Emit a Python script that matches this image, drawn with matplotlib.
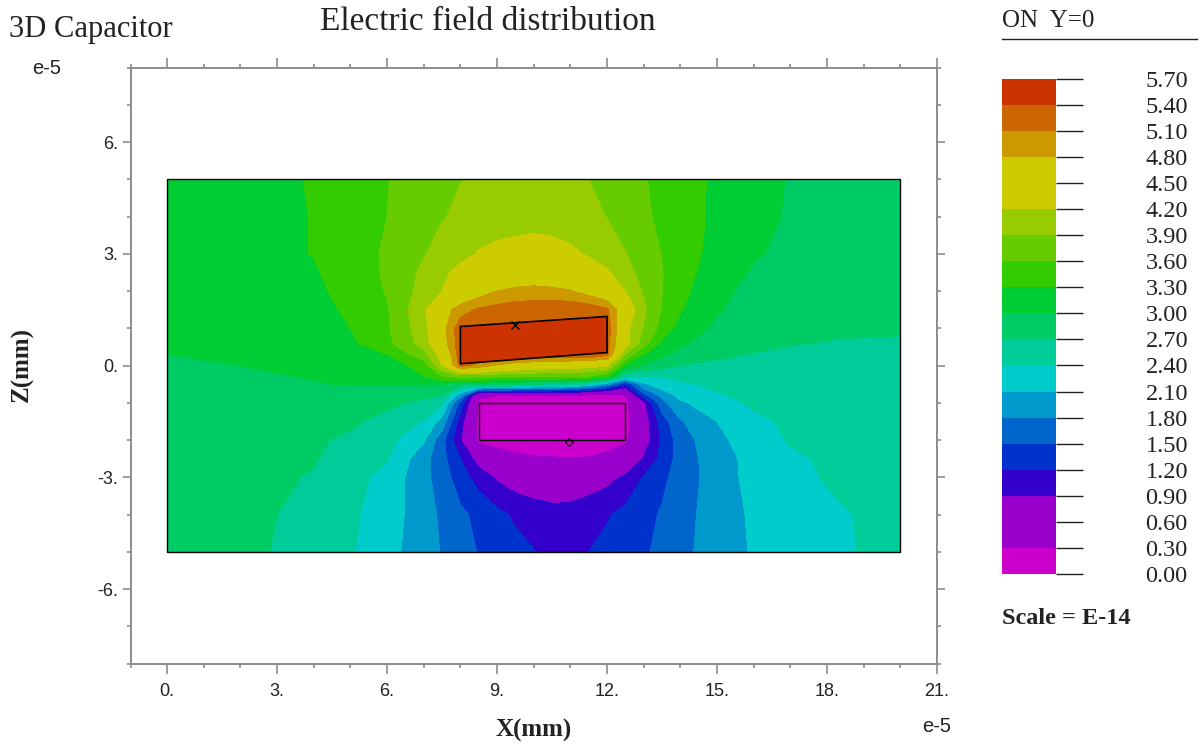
import numpy as np
import matplotlib
matplotlib.use("Agg")
import matplotlib.pyplot as plt
from matplotlib.patches import Polygon, Rectangle
from matplotlib.ticker import MultipleLocator, FormatStrFormatter

# field, unit 1e-14, x and z in 1e-5
xs = [0, 2, 4, 5, 6, 7, 7.5, 8, 8.5, 9, 9.5, 10, 10.5, 11, 11.5, 12, 12.5, 13, 13.5, 14, 15, 16, 17, 18, 19, 20]
zs = [-5, -4, -3, -2.5, -2, -1.5, -1, -0.8, -0.5, -0.3, 0, 0.3, 0.6, 1, 1.5, 2, 2.5, 3, 4, 5]
field = [
    [2.85, 2.80, 2.55, 2.43, 2.20, 1.93, 1.78, 1.63, 1.48, 1.40, 1.30, 1.21, 1.14, 1.12, 1.20, 1.29, 1.37, 1.46, 1.57, 1.72, 1.94, 2.13, 2.22, 2.32, 2.42, 2.45],
    [2.85, 2.80, 2.60, 2.45, 2.26, 1.92, 1.75, 1.56, 1.42, 1.28, 1.15, 1.08, 1.02, 1.03, 1.10, 1.17, 1.29, 1.41, 1.53, 1.69, 1.94, 2.15, 2.24, 2.35, 2.42, 2.45],
    [2.86, 2.79, 2.68, 2.51, 2.30, 1.89, 1.65, 1.34, 1.07, 0.85, 0.72, 0.65, 0.62, 0.63, 0.70, 0.80, 0.95, 1.22, 1.43, 1.63, 1.95, 2.20, 2.31, 2.42, 2.44, 2.46],
    [2.87, 2.81, 2.72, 2.57, 2.42, 1.91, 1.60, 1.20, 0.75, 0.50, 0.38, 0.33, 0.32, 0.31, 0.32, 0.40, 0.60, 0.92, 1.30, 1.63, 1.97, 2.20, 2.36, 2.43, 2.45, 2.47],
    [2.88, 2.82, 2.74, 2.65, 2.49, 2.14, 1.60, 0.92, 0.20, 0.15, 0.12, 0.12, 0.12, 0.12, 0.12, 0.12, 0.22, 0.70, 1.25, 1.65, 2.03, 2.25, 2.42, 2.44, 2.46, 2.48],
    [2.90, 2.86, 2.80, 2.75, 2.60, 2.38, 1.98, 1.05, 0.20, 0.10, 0.10, 0.10, 0.10, 0.10, 0.10, 0.10, 0.15, 0.70, 1.35, 1.77, 2.10, 2.35, 2.44, 2.46, 2.48, 2.49],
    [2.92, 2.90, 2.87, 2.82, 2.77, 2.64, 2.47, 1.40, 0.25, 0.20, 0.20, 0.20, 0.20, 0.20, 0.20, 0.20, 0.20, 0.80, 1.70, 2.05, 2.30, 2.44, 2.47, 2.49, 2.50, 2.50],
    [2.93, 2.92, 2.90, 2.87, 2.83, 2.76, 2.70, 1.90, 0.35, 0.30, 0.28, 0.28, 0.27, 0.25, 0.22, 0.20, 0.27, 1.40, 1.90, 2.20, 2.38, 2.45, 2.48, 2.50, 2.51, 2.52],
    [2.94, 2.96, 2.99, 3.01, 3.02, 3.03, 3.02, 2.85, 2.90, 2.85, 2.80, 2.70, 2.65, 2.55, 2.35, 1.90, 1.20, 2.05, 2.27, 2.37, 2.44, 2.47, 2.48, 2.50, 2.52, 2.54],
    [2.95, 2.97, 3.01, 3.04, 3.09, 3.28, 3.55, 3.65, 3.65, 3.62, 3.60, 3.60, 3.60, 3.60, 3.55, 3.35, 2.45, 2.38, 2.41, 2.45, 2.48, 2.50, 2.50, 2.52, 2.54, 2.55],
    [2.97, 3.00, 3.03, 3.07, 3.14, 3.42, 4.20, 5.20, 5.00, 4.75, 4.60, 4.50, 4.45, 4.40, 4.35, 4.25, 3.25, 2.98, 2.82, 2.70, 2.62, 2.58, 2.56, 2.56, 2.57, 2.60],
    [3.00, 3.02, 3.08, 3.17, 3.30, 3.80, 4.35, 5.30, 5.38, 5.38, 5.38, 5.38, 5.38, 5.38, 5.38, 5.20, 3.85, 3.30, 3.04, 2.93, 2.78, 2.68, 2.64, 2.63, 2.63, 2.64],
    [3.01, 3.04, 3.11, 3.24, 3.52, 4.03, 4.60, 5.30, 5.38, 5.38, 5.38, 5.38, 5.38, 5.38, 5.38, 5.20, 4.35, 3.72, 3.25, 3.03, 2.90, 2.80, 2.72, 2.69, 2.68, 2.68],
    [3.02, 3.05, 3.13, 3.30, 3.56, 4.08, 4.66, 5.30, 5.38, 5.38, 5.38, 5.38, 5.38, 5.38, 5.38, 5.30, 4.30, 3.88, 3.47, 3.20, 2.93, 2.82, 2.77, 2.74, 2.73, 2.72],
    [3.03, 3.07, 3.18, 3.36, 3.57, 4.14, 4.63, 4.96, 5.15, 5.22, 5.27, 5.30, 5.32, 5.33, 5.30, 5.15, 4.50, 3.95, 3.58, 3.32, 3.03, 2.87, 2.80, 2.77, 2.75, 2.74],
    [3.04, 3.10, 3.23, 3.41, 3.62, 4.01, 4.20, 4.42, 4.62, 4.80, 4.88, 4.90, 4.88, 4.82, 4.65, 4.43, 4.20, 3.87, 3.61, 3.38, 3.08, 2.91, 2.84, 2.80, 2.77, 2.76],
    [3.05, 3.13, 3.27, 3.44, 3.64, 3.96, 4.14, 4.28, 4.38, 4.45, 4.50, 4.55, 4.50, 4.45, 4.35, 4.24, 4.00, 3.80, 3.61, 3.42, 3.14, 2.97, 2.88, 2.83, 2.80, 2.78],
    [3.07, 3.17, 3.31, 3.46, 3.64, 3.88, 4.01, 4.12, 4.22, 4.27, 4.29, 4.30, 4.29, 4.25, 4.17, 4.05, 3.91, 3.75, 3.59, 3.44, 3.20, 3.03, 2.93, 2.86, 2.82, 2.80],
    [3.10, 3.18, 3.31, 3.47, 3.60, 3.79, 3.88, 3.96, 4.03, 4.07, 4.10, 4.12, 4.10, 4.06, 3.98, 3.89, 3.77, 3.65, 3.54, 3.43, 3.24, 3.09, 2.97, 2.90, 2.86, 2.83],
    [3.12, 3.18, 3.32, 3.46, 3.59, 3.74, 3.82, 3.89, 3.95, 4.00, 4.04, 4.06, 4.04, 3.98, 3.90, 3.80, 3.71, 3.62, 3.52, 3.42, 3.25, 3.11, 2.98, 2.92, 2.88, 2.85],
]

levels = [0, 0.3, 0.9, 1.2, 1.5, 1.8, 2.1, 2.4, 2.7, 3.0, 3.3, 3.6, 3.9, 4.2, 4.8, 5.1, 5.4, 5.7]
band_colors = ["#CC00CC", "#9900CC", "#3300CC", "#0033CC", "#0066CC", "#0099CC", "#00CCCC", "#00CC99", "#00CC66",
               "#00CC33", "#33CC00", "#66CC00", "#99CC00", "#CCCC00", "#CC9900", "#CC6600", "#CC3300"]
scale_labels = ["0.00", "0.30", "0.60", "0.90", "1.20", "1.50", "1.80", "2.10", "2.40", "2.70",
                "3.00", "3.30", "3.60", "3.90", "4.20", "4.50", "4.80", "5.10", "5.40", "5.70"]
scale_values = [0, 0.3, 0.6, 0.9, 1.2, 1.5, 1.8, 2.1, 2.4, 2.7, 3.0, 3.3, 3.6, 3.9, 4.2, 4.5, 4.8, 5.1, 5.4, 5.7]

# conductors
upper_x = [8.0, 12.0, 12.0, 8.0]
upper_z = [1.05, 1.32, 0.35, 0.05]
lower_x = [8.5, 12.5]
lower_z = [-2.0, -1.0]
probe_x = [9.5, 10.95]
probe_z = [1.1, -2.05]

W, H = 1201, 747
SERIF = "Liberation Serif"
GREY = "#8c8c8c"


def px_axes(fig, left, top, right, bottom):
    return fig.add_axes([left / W, 1 - bottom / H, (right - left) / W, (bottom - top) / H])


def px_text(fig, x, y, s, **kw):
    fig.text(x / W, 1 - y / H, s, **kw)


fig = plt.figure(figsize=(W / 100, H / 100), dpi=100)

# main plot
ax = px_axes(fig, 130.5, 67.7, 937, 663.5)
ax.contourf(xs, zs, np.array(field), levels=levels, colors=band_colors)
ax.add_patch(Rectangle((xs[0], zs[0]), xs[-1] - xs[0], zs[-1] - zs[0], fill=False, ec="black", lw=1.0, zorder=3))
ax.add_patch(Polygon(list(zip(upper_x, upper_z)), closed=True, fc=band_colors[-1], ec="black", lw=1.2, zorder=3))
ax.add_patch(Rectangle((lower_x[0], lower_z[0]), lower_x[1] - lower_x[0], lower_z[1] - lower_z[0],
                       fc=band_colors[0], ec="black", lw=1.0, zorder=3))
ax.plot(probe_x[0], probe_z[0], marker="x", ms=6, mec="black", mew=1.0, zorder=4)
ax.plot(probe_x[1], probe_z[1], marker="D", ms=4, mfc="none", mec="black", mew=0.8, zorder=4)

ax.set_xlim(-1, 21)
ax.set_ylim(-8, 8)
ax.xaxis.set_major_locator(MultipleLocator(3))
ax.xaxis.set_minor_locator(MultipleLocator(1))
ax.yaxis.set_major_locator(MultipleLocator(3))
ax.yaxis.set_minor_locator(MultipleLocator(1))
ax.xaxis.set_major_formatter(FormatStrFormatter("%d."))
ax.yaxis.set_major_formatter(FormatStrFormatter("%d."))
ax.set_yticks([-6, -3, 0, 3, 6])
ax.set_xticks([0, 3, 6, 9, 12, 15, 18, 21])
ax.tick_params(which="both", direction="out", top=True, right=True, color=GREY, width=1.2,
               labelsize=13, labelcolor="#222222", labelfontfamily="Liberation Sans")
ax.tick_params(which="major", length=6, pad=3)
ax.tick_params(which="minor", length=3)
ax.tick_params(axis="x", which="major", length=7, pad=7)
for s in ax.spines.values():
    s.set_color(GREY)
    s.set_linewidth(1.4)

# colour scale
cb = px_axes(fig, 1002, 78.7, 1056, 574)
for i, c in enumerate(band_colors):
    cb.bar(0.5, levels[i + 1] - levels[i], width=1, bottom=levels[i], color=c)
cb.set_xlim(0, 1)
cb.set_ylim(0, 5.7)
cb.set_xticks([])
cb.yaxis.tick_right()
cb.set_yticks(scale_values)
cb.set_yticklabels(scale_labels, fontsize=17.5, family=SERIF, color="#222222")
cb.tick_params(axis="y", direction="out", length=19.5, width=1.0, color="#222222", pad=45)
for s in cb.spines.values():
    s.set_visible(False)

# texts
px_text(fig, 9, 29, "3D Capacitor", family=SERIF, fontsize=22, va="center", color="#222222")
px_text(fig, 488, 22, "Electric field distribution", family=SERIF, fontsize=24, ha="center", va="center", color="#222222")
px_text(fig, 1002, 21, "ON  Y=0", family=SERIF, fontsize=18, va="center", color="#222222")
fig.add_artist(plt.Line2D([1002 / W, 1197 / W], [1 - 39 / H, 1 - 39 / H], color="#222222", lw=1.0))
px_text(fig, 1002, 618, "Scale = E-14", family=SERIF, fontsize=17.5, weight="bold", va="center", color="#222222")
px_text(fig, 22, 364, "Z(mm)", family=SERIF, fontsize=18, weight="bold", rotation=90, ha="center", va="center", color="#222222")
px_text(fig, 534, 730, "X(mm)", family=SERIF, fontsize=18, weight="bold", ha="center", va="center", color="#222222")
px_text(fig, 47, 69, "e-5", family="Liberation Sans", fontsize=14.5, ha="center", va="center", color="#222222")
px_text(fig, 937, 726, "e-5", family="Liberation Sans", fontsize=14.5, ha="center", va="center", color="#222222")

fig.savefig("out.png", dpi=100)
